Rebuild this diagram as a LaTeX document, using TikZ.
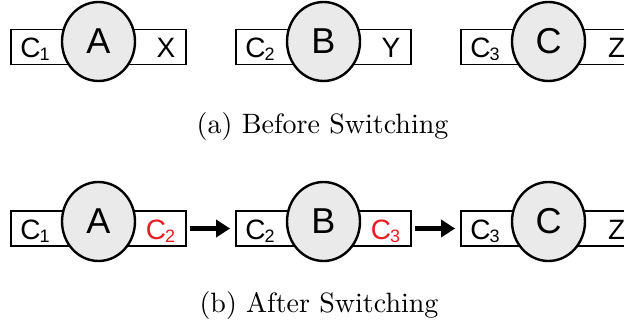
\documentclass[tikz,border=0pt]{standalone}
\usepackage{fontspec}
\setsansfont{Liberation Sans}
\newfontfamily\capfont{lmroman10-regular}[Extension=.otf]
\usepackage{tikz}
\usetikzlibrary{shapes.geometric,arrows.meta,positioning,calc}

\definecolor{hubfill}{RGB}{234,234,234}
\definecolor{swapred}{RGB}{232,28,36}
\newcommand{\portidx}[1]{\kern-0.8pt\raisebox{-3pt}{\fontsize{18}{18}\selectfont #1}}

\begin{document}
\begin{tikzpicture}[
    x=1pt, y=1pt,
    port/.style={rectangle, draw, line width=1.8pt, fill=white, minimum width=175pt, minimum height=35pt, inner sep=0pt},
    hub/.style={ellipse, draw, line width=2.4pt, fill=hubfill, minimum width=73pt, minimum height=79pt, inner sep=0pt, font=\sffamily\fontsize{36}{36}\selectfont},
    inlbl/.style={anchor=base west, inner sep=0pt, font=\sffamily\fontsize{28}{28}\selectfont},
    outlbl/.style={anchor=base east, inner sep=0pt, font=\sffamily\fontsize{28}{28}\selectfont},
    caption/.style={anchor=base, inner sep=0pt, font=\capfont\fontsize{28}{32}\selectfont},
    line/.style={draw, line width=5pt, -{Triangle[length=14pt,width=17pt]}, shorten <=3pt, shorten >=5pt}
]
\path [use as bounding box, clip] (0,0) rectangle (624,325);

% (a) before switching
\node [port] (pa) at (98.5,278) {};
\node [hub] (a) at ($(pa)+(0,5.5)$) {A};
\node [inlbl] (ina) at ($(pa.west)+(10,-10.5)$) {C\portidx{1}};
\node [outlbl] (outa) at ($(pa.east)+(-11.5,-10.5)$) {X};

\node [port] (pb) at (323.5,278) {};
\node [hub] (b) at ($(pb)+(0,5.5)$) {B};
\node [inlbl] (inb) at ($(pb.west)+(10,-10.5)$) {C\portidx{2}};
\node [outlbl] (outb) at ($(pb.east)+(-11.5,-10.5)$) {Y};

\node [port] (pc) at (548.5,278) {};
\node [hub] (c) at ($(pc)+(0,5.5)$) {C};
\node [inlbl] (inc) at ($(pc.west)+(10,-10.5)$) {C\portidx{3}};
\node [outlbl] (outc) at ($(pc.east)+(-11.5,-10.5)$) {Z};

\node [caption] (capa) at (322.5,192) {(a) Before Switching};

% (b) after switching
\node [port] (qa) at (98.5,96.5) {};
\node [hub] (a2) at ($(qa)+(0,7)$) {A};
\node [inlbl] (ina2) at ($(qa.west)+(10,-10.5)$) {C\portidx{1}};
\node [outlbl, text=swapred] (outa2) at ($(qa.east)+(-11.5,-10.5)$) {C\portidx{2}};

\node [port] (qb) at (323.5,96.5) {};
\node [hub] (b2) at ($(qb)+(0,7)$) {B};
\node [inlbl] (inb2) at ($(qb.west)+(10,-10.5)$) {C\portidx{2}};
\node [outlbl, text=swapred] (outb2) at ($(qb.east)+(-11.5,-10.5)$) {C\portidx{3}};

\node [port] (qc) at (548.5,96.5) {};
\node [hub] (c2) at ($(qc)+(0,7)$) {C};
\node [inlbl] (inc2) at ($(qc.west)+(10,-10.5)$) {C\portidx{3}};
\node [outlbl] (outc2) at ($(qc.east)+(-11.5,-10.5)$) {Z};

\path [line] (qa.east) -- (qb.west);
\path [line] (qb.east) -- (qc.west);

\node [caption] (capb) at (319,13) {(b) After Switching};

\end{tikzpicture}
\end{document}
